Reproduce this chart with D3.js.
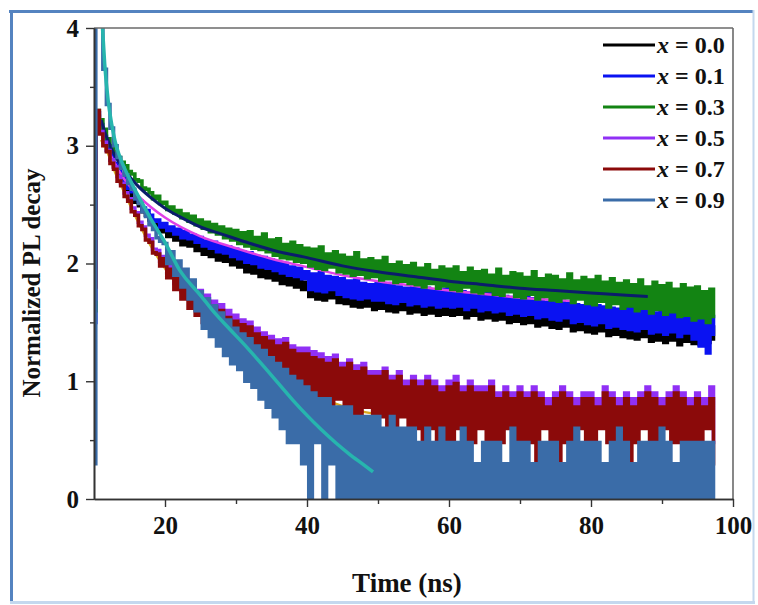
<!DOCTYPE html>
<html><head><meta charset="utf-8">
<script src="https://cdn.jsdelivr.net/npm/d3@7"></script>
<style>html,body{margin:0;padding:0;background:#fff;} svg{display:block;}</style>
</head><body><svg id="c" width="758" height="605"></svg>
<script>
// sampling grid of the decay traces (ns)
const tStart = 10, tStep = 0.5;
const xTicks = [20, 40, 60, 80, 100];
const xMinor = [30, 50, 70, 90];
const yTicks = [0, 1, 2, 3, 4];
const yMinor = [0.5, 1.5, 2.5, 3.5];
const legendLabels = ["0.0", "0.1", "0.3", "0.5", "0.7", "0.9"];

const decay00 = [2.10,3.25,3.15,3.05,2.96,2.88,2.82,2.76,2.70,2.66,2.61,2.57,2.52,2.49,2.44,2.41,2.37,2.33,2.32,2.27,
2.30,2.23,2.26,2.20,2.25,2.16,2.22,2.15,2.20,2.11,
2.17,2.08,2.14,2.06,2.13,2.03,2.10,2.02,2.08,1.99,
2.06,1.97,2.04,1.93,2.03,1.92,2.00,1.89,1.98,1.88,
1.97,1.86,1.95,1.83,1.93,1.82,1.91,1.80,1.89,1.78,
1.84,1.72,1.82,1.70,1.83,1.69,1.80,1.71,1.79,1.67,
1.78,1.66,1.76,1.64,1.77,1.63,1.74,1.64,1.73,1.61,
1.75,1.62,1.73,1.60,1.74,1.59,1.71,1.61,1.70,1.58,
1.72,1.59,1.71,1.57,1.70,1.58,1.68,1.56,1.69,1.57,
1.70,1.56,1.68,1.57,1.67,1.54,1.66,1.56,1.65,1.53,
1.67,1.54,1.66,1.52,1.64,1.53,1.63,1.50,1.62,1.51,
1.64,1.49,1.62,1.50,1.61,1.47,1.60,1.48,1.58,1.46,
1.60,1.45,1.59,1.47,1.57,1.43,1.56,1.44,1.55,1.42,
1.57,1.41,1.55,1.43,1.54,1.39,1.53,1.40,1.52,1.38,
1.54,1.37,1.53,1.36,1.51,1.38,1.50,1.34,1.49,1.35,
1.52,1.33,1.50,1.35,1.49,1.31,1.48,1.34,1.47,1.32,
1.49,1.31,1.48,1.33,1.46,1.36];

const decay01 = [1.50,3.28,3.18,3.08,2.99,2.92,2.85,2.79,2.74,2.70,2.64,2.61,2.55,2.53,2.47,2.45,2.41,2.36,2.37,2.31,
2.34,2.28,2.31,2.25,2.29,2.22,2.27,2.21,2.24,2.18,
2.22,2.15,2.19,2.13,2.18,2.10,2.15,2.09,2.14,2.06,
2.12,2.04,2.10,2.01,2.09,2.00,2.06,1.97,2.05,1.96,
2.03,1.94,2.01,1.92,2.00,1.90,1.97,1.89,1.96,1.87,
1.93,1.78,1.91,1.77,1.92,1.76,1.89,1.78,1.88,1.74,
1.87,1.72,1.85,1.71,1.86,1.70,1.83,1.71,1.82,1.69,
1.83,1.69,1.82,1.67,1.83,1.66,1.80,1.68,1.79,1.65,
1.81,1.66,1.80,1.64,1.79,1.65,1.77,1.63,1.78,1.64,
1.79,1.63,1.77,1.64,1.76,1.61,1.75,1.63,1.74,1.60,
1.76,1.61,1.75,1.59,1.73,1.60,1.72,1.57,1.71,1.58,
1.73,1.56,1.71,1.57,1.70,1.54,1.69,1.55,1.67,1.53,
1.69,1.52,1.68,1.54,1.66,1.50,1.65,1.51,1.64,1.49,
1.66,1.48,1.64,1.50,1.63,1.46,1.62,1.47,1.61,1.45,
1.63,1.44,1.62,1.43,1.60,1.45,1.59,1.41,1.58,1.42,
1.61,1.40,1.59,1.42,1.58,1.38,1.57,1.41,1.56,1.36,
1.58,1.30,1.57,1.24,1.55,1.40];

const decay03 = [1.60,3.30,3.22,3.14,3.06,3.00,2.95,2.90,2.86,2.83,2.78,2.76,2.71,2.70,2.64,2.63,2.60,2.55,2.57,2.51,
2.52,2.46,2.48,2.43,2.45,2.39,2.42,2.36,2.40,2.33,
2.37,2.30,2.35,2.27,2.33,2.25,2.31,2.22,2.29,2.20,
2.28,2.17,2.26,2.15,2.27,2.13,2.22,2.12,2.25,2.10,
2.20,2.07,2.21,2.05,2.16,2.04,2.18,2.02,2.15,2.01,
2.13,1.98,2.12,1.96,2.14,1.95,2.08,1.97,2.10,1.93,
2.07,1.92,2.05,1.90,2.09,1.91,2.03,1.88,2.04,1.89,
2.02,1.86,2.05,1.87,1.99,1.84,2.01,1.85,1.98,1.83,
2.00,1.82,1.96,1.80,1.99,1.83,1.94,1.79,1.97,1.81,
1.95,1.78,1.97,1.77,1.92,1.80,1.96,1.76,1.93,1.75,
1.94,1.77,1.90,1.74,1.95,1.73,1.89,1.76,1.92,1.72,
1.91,1.71,1.88,1.74,1.93,1.70,1.87,1.72,1.90,1.69,
1.89,1.68,1.86,1.71,1.91,1.67,1.85,1.70,1.88,1.66,
1.86,1.65,1.89,1.68,1.84,1.63,1.87,1.66,1.83,1.62,
1.85,1.64,1.82,1.60,1.86,1.62,1.80,1.58,1.84,1.61,
1.81,1.57,1.83,1.59,1.78,1.55,1.82,1.56,1.79,1.52,
1.80,1.54,1.76,1.50,1.78,1.55];

const decay05 = [1.70,3.28,3.12,3.03,2.96,2.88,2.82,2.74,2.68,2.60,2.55,2.47,2.43,2.35,2.31,2.24,2.21,2.12,2.11,2.02,
2.06,1.92,1.99,1.83,1.92,1.76,1.86,1.70,1.80,1.64,
1.77,1.56,1.73,1.50,1.68,1.46,1.65,1.40,1.60,1.36,
1.56,1.32,1.52,1.28,1.50,1.25,1.45,1.22,1.41,1.18,
1.38,1.13,1.35,1.10,1.36,1.05,1.30,1.07,1.28,1.00,
1.28,1.00,1.25,0.96,1.23,0.98,1.20,0.92,1.22,0.95,
1.15,0.95,1.18,0.90,1.13,0.85,1.15,0.90,1.08,0.85,
1.08,0.90,1.11,0.85,1.04,0.78,1.08,0.85,1.00,0.78,
1.04,0.85,1.00,0.78,1.04,0.70,1.00,0.85,0.95,0.78,
1.00,0.78,1.04,0.70,0.95,0.85,1.00,0.60,0.95,0.78,
0.95,0.70,1.00,0.78,0.90,0.60,0.95,0.78,0.90,0.70,
0.95,0.78,0.90,0.60,0.95,0.70,0.90,0.78,0.85,0.60,
0.90,0.70,0.95,0.70,0.90,0.60,0.85,0.78,0.90,0.70,
0.90,0.60,0.85,0.78,0.95,0.70,0.90,0.60,0.85,0.78,
0.90,0.70,0.85,0.60,0.90,0.78,0.95,0.70,0.90,0.60,
0.85,0.78,0.90,0.70,0.95,0.60,0.90,0.78,0.85,0.60,
0.90,0.70,0.85,0.78,0.95,0.48];

const decay07 = [1.80,3.30,3.10,3.00,2.95,2.85,2.80,2.70,2.66,2.57,2.53,2.44,2.41,2.32,2.29,2.20,2.18,2.09,2.08,1.98,
2.04,1.88,1.95,1.78,1.88,1.70,1.82,1.62,1.76,1.56,
1.72,1.50,1.68,1.45,1.63,1.42,1.60,1.36,1.54,1.32,
1.51,1.28,1.48,1.24,1.46,1.20,1.40,1.18,1.37,1.12,
1.34,1.08,1.30,1.04,1.32,1.00,1.26,1.02,1.23,0.95,
1.23,0.90,1.20,0.85,1.18,0.85,1.15,0.78,1.18,0.85,
1.11,0.78,1.15,0.70,1.08,0.70,1.11,0.78,1.04,0.70,
1.04,0.70,1.08,0.60,1.00,0.60,1.04,0.70,0.95,0.60,
1.00,0.60,0.95,0.48,1.00,0.60,0.95,0.48,0.90,0.48,
0.95,0.48,0.98,0.60,0.90,0.48,0.95,0.48,0.90,0.60,
0.90,0.48,0.95,0.30,0.85,0.48,0.90,0.60,0.85,0.48,
0.90,0.48,0.85,0.48,0.90,0.30,0.85,0.60,0.78,0.48,
0.85,0.00,0.90,0.48,0.85,0.48,0.78,0.60,0.85,0.30,
0.85,0.48,0.78,0.60,0.90,0.48,0.85,0.48,0.78,0.30,
0.85,0.00,0.78,0.48,0.85,0.60,0.90,0.30,0.85,0.48,
0.78,0.60,0.85,0.48,0.90,0.48,0.85,0.30,0.78,0.48,
0.85,0.48,0.78,0.60,0.85,0.30];

const decay09 = [0.30,4.10,4.05,3.65,3.35,3.15,3.00,2.90,2.81,2.75,2.68,2.63,2.55,2.51,2.44,2.40,2.33,2.29,2.22,2.19,
2.17,2.00,2.10,1.90,2.02,1.80,1.95,1.70,1.86,1.60,
1.76,1.45,1.70,1.38,1.64,1.30,1.58,1.22,1.52,1.15,
1.45,1.10,1.40,1.00,1.36,0.95,1.30,0.85,1.26,0.78,
1.20,0.70,1.15,0.60,1.10,0.48,1.04,0.48,1.00,0.30,
0.95,0.00,0.90,0.48,0.85,0.00,0.85,0.30,0.78,0.00,
0.78,0.00,0.78,0.00,0.70,0.00,0.70,0.00,0.70,0.00,
0.70,0.00,0.60,0.00,0.70,0.00,0.60,0.00,0.60,0.00,
0.60,0.00,0.48,0.00,0.60,0.00,0.48,0.00,0.60,0.00,
0.48,0.00,0.48,0.00,0.60,0.00,0.48,0.00,0.30,0.00,
0.48,0.00,0.48,0.00,0.48,0.00,0.30,0.00,0.60,0.00,
0.48,0.00,0.48,0.00,0.30,0.00,0.48,0.00,0.48,0.00,
0.48,0.00,0.30,0.00,0.48,0.00,0.60,0.00,0.48,0.00,
0.48,0.00,0.48,0.00,0.30,0.00,0.48,0.00,0.60,0.00,
0.48,0.00,0.30,0.00,0.48,0.00,0.48,0.00,0.48,0.00,
0.60,0.00,0.48,0.00,0.30,0.00,0.48,0.00,0.48,0.00,
0.48,0.00,0.48,0.00,0.48,0.00];

// fitted decay curves
const fitUpperTime = [11,11.5,12,13,14,15,16,18,20,22,25,28,32,36,40,45,50,55,60,65,70,75,80,85,88];
const fitUpperVals = [3.22,3.12,3.04,2.91,2.82,2.74,2.67,2.56,2.47,2.40,2.31,2.25,2.17,2.10,2.05,1.98,1.93,1.89,1.85,1.82,1.79,1.77,1.75,1.73,1.72];
const fitPinkTime = [12,14,16,18,20,25,30,35,40,45,50,55,60,65,70,75,78];
const fitPinkVals = [2.96,2.74,2.59,2.48,2.39,2.23,2.13,2.04,1.97,1.90,1.85,1.81,1.77,1.74,1.71,1.69,1.68];
const fitYellowTime = [11,12,13,14,16,18,20,22,24,26,28,30,32,34,36,38,40,42,44,46,48,50,52.7];
const fitYellowVals = [3.05,2.93,2.77,2.64,2.38,2.15,1.96,1.80,1.65,1.53,1.41,1.33,1.25,1.15,1.06,0.99,0.92,0.86,0.81,0.77,0.74,0.72,0.70];
const fitCyanTime = [11.2,11.5,12,12.5,13,13.5,14,15,16,17,18,19,20,22,25,27,29,31.5,34,36,38,40,42,44,46,48,49.3];
const fitCyanVals = [4.0,3.7,3.38,3.18,3.03,2.93,2.85,2.72,2.6,2.49,2.38,2.28,2.18,1.95,1.73,1.58,1.45,1.29,1.12,0.98,0.84,0.71,0.59,0.48,0.38,0.29,0.23];

const colors = ["#000000", "#0a12f2", "#138413", "#9030f5", "#8b0a0a", "#3a6ca8"];
const series = [decay00, decay01, decay03, decay05, decay07, decay09];

const svg = d3.select("#c");
svg.append("rect").attr("width", 758).attr("height", 605).attr("fill", "#fff");

// page border
svg.append("line").attr("x1", 9).attr("x2", 753).attr("y1", 11.5).attr("y2", 11.5).attr("stroke", "#5483c0").attr("stroke-width", 3);
svg.append("line").attr("x1", 11.5).attr("x2", 11.5).attr("y1", 10).attr("y2", 603).attr("stroke", "#5483c0").attr("stroke-width", 3);
svg.append("line").attr("x1", 753.5).attr("x2", 753.5).attr("y1", 10).attr("y2", 603).attr("stroke", "#c4d8ee").attr("stroke-width", 2);
svg.append("line").attr("x1", 10).attr("x2", 755).attr("y1", 602.5).attr("y2", 602.5).attr("stroke", "#c4d8ee").attr("stroke-width", 3);

const x = d3.scaleLinear().domain([10, 100]).range([94, 733]);
const y = d3.scaleLinear().domain([0, 4]).range([499, 28]);

svg.append("clipPath").attr("id", "clip").append("rect")
  .attr("x", 94).attr("y", 28).attr("width", 639).attr("height", 472);

const plot = svg.append("g").attr("clip-path", "url(#clip)");
const trace = d3.line().x((d, i) => x(tStart + i * tStep)).y(d => y(d)).curve(d3.curveStep);
const fitLine = d3.line().x(d => x(d[0])).y(d => y(d[1])).curve(d3.curveMonotoneX);

function drawTrace(k) {
  plot.append("path").datum(series[k]).attr("d", trace)
    .attr("fill", "none").attr("stroke", colors[k]).attr("stroke-width", 3.6).attr("stroke-linejoin", "miter");
}
function drawFit(tt, vv, col, w) {
  plot.append("path").datum(d3.zip(tt, vv)).attr("d", fitLine)
    .attr("fill", "none").attr("stroke", col).attr("stroke-width", w);
}
drawTrace(0);
drawTrace(1);
drawFit(fitPinkTime, fitPinkVals, "#e040e6", 2.5);
drawTrace(2);
drawFit(fitUpperTime, fitUpperVals, "#0b1c6b", 3);
drawTrace(3);
drawFit(fitYellowTime, fitYellowVals, "#d8a81e", 2.5);
drawTrace(4);
drawTrace(5);
drawFit(fitCyanTime, fitCyanVals, "#27b5ae", 3.5);

// frame
svg.append("line").attr("x1", 94).attr("x2", 733).attr("y1", 28).attr("y2", 28).attr("stroke", "#6a6a6a").attr("stroke-width", 1.6);
svg.append("line").attr("x1", 733).attr("x2", 733).attr("y1", 28).attr("y2", 499).attr("stroke", "#6a6a6a").attr("stroke-width", 1.6);

const font = "'Liberation Serif','Times New Roman',serif";

const gy = svg.append("g").attr("transform", "translate(94,0)");
gy.call(d3.axisLeft(y).tickValues(yTicks).tickSize(8).tickSizeOuter(0).tickPadding(7).tickFormat(d3.format("d")));
gy.append("g").call(d3.axisLeft(y).tickValues(yMinor).tickSize(4).tickSizeOuter(0).tickFormat(""));
const gx = svg.append("g").attr("transform", "translate(0,499)");
gx.call(d3.axisBottom(x).tickValues(xTicks).tickSize(8).tickSizeOuter(0).tickPadding(9).tickFormat(d3.format("d")));
gx.append("g").call(d3.axisBottom(x).tickValues(xMinor).tickSize(5).tickSizeOuter(0).tickFormat(""));
svg.selectAll(".domain").attr("stroke", "#333").attr("stroke-width", 1.6);
svg.selectAll(".tick line").attr("stroke", "#333").attr("stroke-width", 1.4);
svg.selectAll(".tick text").attr("font-family", font).attr("font-weight", "bold").attr("font-size", 25).attr("fill", "#111");

svg.append("text").attr("transform", "translate(40,283) rotate(-90)").attr("text-anchor", "middle")
  .attr("font-family", font).attr("font-weight", "bold").attr("font-size", 25).attr("fill", "#111")
  .text("Normalized PL decay");
svg.append("text").attr("x", 407).attr("y", 592).attr("text-anchor", "middle")
  .attr("font-family", font).attr("font-weight", "bold").attr("font-size", 27).attr("fill", "#111")
  .text("Time (ns)");

// legend
const lg = svg.append("g");
legendLabels.forEach((lab, k) => {
  const ly = 45 + k * 31;
  lg.append("line").attr("x1", 603).attr("x2", 655).attr("y1", ly).attr("y2", ly)
    .attr("stroke", colors[k]).attr("stroke-width", 3);
  const t = lg.append("text").attr("x", 657).attr("y", ly + 8)
    .attr("font-family", font).attr("font-weight", "bold").attr("font-size", 24).attr("fill", "#111");
  t.append("tspan").attr("font-style", "italic").text("x");
  t.append("tspan").text(" = " + lab);
});
</script></body></html>
